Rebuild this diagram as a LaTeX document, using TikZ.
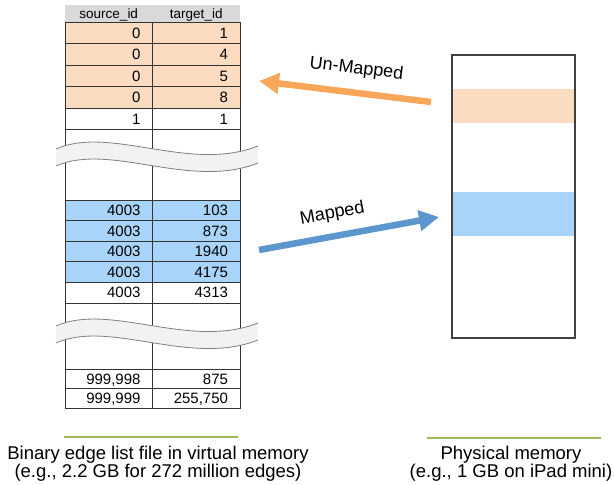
\documentclass[tikz,border=0pt]{standalone}
\usepackage{fontspec}
\setmainfont{Liberation Sans}
\usetikzlibrary{positioning,arrows.meta}

\definecolor{unmapfill}{HTML}{FBDCC1}
\definecolor{mapfill}{HTML}{A9D4FA}
\definecolor{headfill}{HTML}{D9D9D9}
\definecolor{brkfill}{HTML}{F2F2F2}
\definecolor{unmaparrow}{HTML}{F8A65A}
\definecolor{maparrow}{HTML}{5B96CC}
\definecolor{rulegreen}{HTML}{9BBB59}

\begin{document}
\begin{tikzpicture}[
    x=1pt, y=-1pt,
    node distance=0pt, % ячейки вплотную друг к другу
    cell/.style={draw=black!80, line width=0.8pt, minimum width=87.5pt, inner sep=0pt, outer sep=0pt,
        text width=63.5pt, align=right, text height=10.7pt, text depth=0pt,
        font=\fontsize{15}{18}\selectfont}, % Стиль ячейки
    rowh/.style={minimum height=#1}, % Высота строки
    head/.style={fill=headfill, minimum width=87.5pt, minimum height=17pt, inner sep=0pt, outer sep=0pt,
        text height=9.5pt, text depth=0pt, font=\fontsize{13.5}{16}\selectfont}, % Заголовок
    unm/.style={fill=unmapfill},
    map/.style={fill=mapfill},
    brk/.style={draw=black!50, line width=0.8pt}, % Линия разрыва
    fat/.style={line width=6.5pt, -{Triangle[length=20pt, width=20pt]}}, % Стиль стрелок
    lbl/.style={text=black, font=\fontsize{18}{20}\selectfont, inner sep=0pt, sloped},
    rule/.style={rulegreen, line width=2.5pt},
    captxt/.style={anchor=base, inner sep=0pt, font=\fontsize{18.5}{20}\selectfont}
    ]

    \useasboundingbox (0,0) rectangle (614,485);

    % Заголовок таблицы
    \node[head] (S0) at (108.75,13.5) {source\_id};
    \node[head, right=of S0] (T0) {target\_id};

    % Столбец source_id
    \node[cell, unm, rowh=21.5pt, below=of S0] (S1) {0};
    \node[cell, unm, rowh=21.5pt, below=of S1] (S2) {0};
    \node[cell, unm, rowh=21.5pt, below=of S2] (S3) {0};
    \node[cell, unm, rowh=21.5pt, below=of S3] (S4) {0};
    \node[cell, rowh=21.5pt, below=of S4] (S5) {1};
    \node[cell, rowh=70.5pt, below=of S5] (S6) {};
    \node[cell, map, rowh=20.5pt, below=of S6] (S7) {4003};
    \node[cell, map, rowh=20.5pt, below=of S7] (S8) {4003};
    \node[cell, map, rowh=20.5pt, below=of S8] (S9) {4003};
    \node[cell, map, rowh=20.5pt, below=of S9] (S10) {4003};
    \node[cell, rowh=21pt, below=of S10] (S11) {4003};
    \node[cell, rowh=66pt, below=of S11] (S12) {};
    \node[cell, rowh=19.5pt, below=of S12] (S13) {999,998};
    \node[cell, rowh=19.5pt, below=of S13] (S14) {999,999};

    % Столбец target_id
    \node[cell, unm, rowh=21.5pt, right=of S1] (T1) {1};
    \node[cell, unm, rowh=21.5pt, right=of S2] (T2) {4};
    \node[cell, unm, rowh=21.5pt, right=of S3] (T3) {5};
    \node[cell, unm, rowh=21.5pt, right=of S4] (T4) {8};
    \node[cell, rowh=21.5pt, right=of S5] (T5) {1};
    \node[cell, rowh=70.5pt, right=of S6] (T6) {};
    \node[cell, map, rowh=20.5pt, right=of S7] (T7) {103};
    \node[cell, map, rowh=20.5pt, right=of S8] (T8) {873};
    \node[cell, map, rowh=20.5pt, right=of S9] (T9) {1940};
    \node[cell, map, rowh=20.5pt, right=of S10] (T10) {4175};
    \node[cell, rowh=21pt, right=of S11] (T11) {4313};
    \node[cell, rowh=66pt, right=of S12] (T12) {};
    \node[cell, rowh=19.5pt, right=of S13] (T13) {875};
    \node[cell, rowh=19.5pt, right=of S14] (T14) {255,750};

    % Разрывы таблицы
    \foreach \d in {0,177} {
        \fill[brkfill] (56,{149+\d}) .. controls (110,{125+\d}) and (190,{173+\d}) .. (258,{146+\d})
            -- (258,{163+\d}) .. controls (190,{190+\d}) and (110,{142+\d}) .. (56,{166+\d}) -- cycle;
        \draw[brk] (56,{149+\d}) .. controls (110,{125+\d}) and (190,{173+\d}) .. (258,{146+\d});
        \draw[brk] (56,{166+\d}) .. controls (110,{142+\d}) and (190,{190+\d}) .. (258,{163+\d});
    }

    % Физическая память
    \node[fill=unmapfill, minimum width=121pt, minimum height=34pt, inner sep=0pt] (MemU) at (513.5,106) {};
    \node[fill=mapfill, minimum width=121pt, minimum height=44pt, inner sep=0pt] (MemM) at (513.5,214) {};
    \node[draw=black!75, line width=1.2pt, minimum width=123pt, minimum height=283pt, inner sep=0pt] (Mem) at (513.5,196.5) {};

    % Стрелки
    \coordinate (UnTail) at (431,102);
    \coordinate (UnTip) at (259,81);
    \coordinate (MapTail) at (259,250);
    \coordinate (MapTip) at (439,217);
    \draw[fat, unmaparrow] (UnTail) -- (UnTip) node[lbl, pos=0.45, above=12pt] {Un-Mapped};
    \draw[fat, maparrow] (MapTail) -- (MapTip) node[lbl, pos=0.43, above=10.8pt] {Mapped};

    % Подписи
    \draw[rule] (64,437) -- (238,437);
    \draw[rule] (427,438) -- (601,438);
    \node[captxt] (CapV1) at (158,459) {Binary edge list file in virtual memory};
    \node[captxt] (CapV2) at (158,477.5) {(e.g., 2.2 GB for 272 million edges)};
    \node[captxt] (CapP1) at (511,459) {Physical memory};
    \node[captxt] (CapP2) at (511,477.5) {(e.g., 1 GB on iPad mini)};

\end{tikzpicture}
\end{document}
